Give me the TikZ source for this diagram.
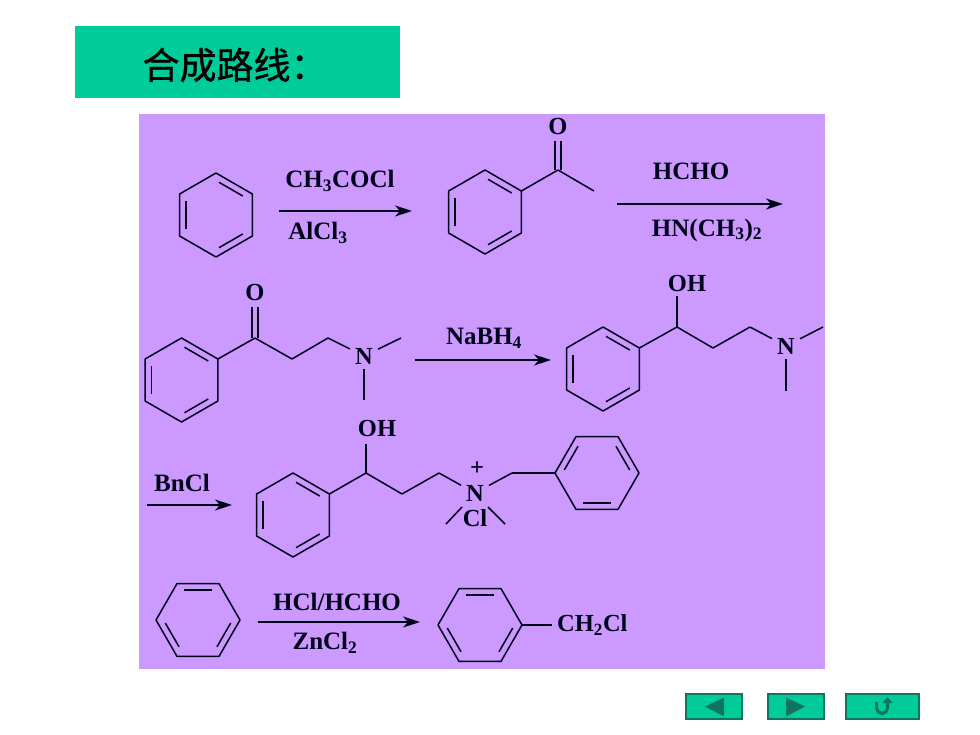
\documentclass[tikz,border=0pt]{standalone}
\usepackage{fontspec}
\setmainfont{Liberation Serif}
\newfontfamily\cjkfont[FakeBold=1]{Noto Sans CJK SC}
\usetikzlibrary{calc, arrows.meta}
\definecolor{panelpurple}{HTML}{CC99FF}
\definecolor{titlegreen}{HTML}{00CC99}
\definecolor{icondark}{HTML}{0F7560}

% ring: name, centre, angle of first corner
\newcommand{\benzring}[3]{%
  \foreach \i in {1,...,6} {\coordinate (#1\i) at ($(#2)+({-(#3+60*(\i-1))}:42)$);}
  \draw[bond] (#11) -- (#12) -- (#13) -- (#14) -- (#15) -- (#16) -- cycle;
  \draw[innerbond] ($(#2)!.82!(#11)$) -- ($(#2)!.82!(#12)$);
  \draw[innerbond] ($(#2)!.82!(#13)$) -- ($(#2)!.82!(#14)$);
  \draw[innerbond] ($(#2)!.82!(#15)$) -- ($(#2)!.82!(#16)$);
}

\begin{document}
\begin{tikzpicture}[x=1pt, y=-1pt,
  bond/.style={line width=1.5pt, black!90!blue, line join=round},
  innerbond/.style={bond, shorten >=3.5pt, shorten <=3.5pt},
  atom/.style={font=\fontsize{24.5}{28}\selectfont\bfseries, inner sep=1pt, text=black!90!blue},
  nitrogen/.style={atom, inner sep=5pt},
  reagent/.style={font=\fontsize{25}{28}\selectfont\bfseries, inner sep=0pt, text=black!90!blue},
  rarrow/.style={line width=1.5pt, black!90!blue, -{Stealth[length=17pt, width=11pt, inset=5pt]}},
  navbtn/.style={draw=icondark, line width=1.4pt, fill=titlegreen, inner sep=0pt, minimum height=25pt}]

\useasboundingbox (0,0) rectangle (980,735);
\fill[white] (0,0) rectangle (980,735);

\node[fill=titlegreen, minimum width=325pt, minimum height=72pt, inner sep=0pt] (title) at (237.5,62) {};
\node[font=\fontsize{37}{40}\cjkfont, inner sep=0pt] (titletext) at (235,65) {合成路线：};
\node[fill=panelpurple, minimum width=686pt, minimum height=555pt, inner sep=0pt] (panel) at (482,391.5) {};

% row 1
\benzring{ra}{216,215}{30}
\coordinate (a1) at (279,211);
\coordinate (a2) at (412,211);
\draw[rarrow] (a1) -- (a2);
\node[reagent] (ch3cocl) at (340,181) {CH\textsubscript{3}COCl};
\node[reagent] (alcl3) at (318,233) {AlCl\textsubscript{3}};

\benzring{rb}{485,212}{30}
\coordinate (bc) at (558,170);
\coordinate (bm) at (594,191);
\node[atom] (bo) at (558,127) {O};
\path[bond] (rb1) edge (bc) (bc) edge (bm);
\draw[bond] ([xshift=-3pt]bc) -- ([xshift=-3pt,yshift=-5pt]bo.south);
\draw[bond] ([xshift=3pt]bc) -- ([xshift=3pt,yshift=-5pt]bo.south);
\coordinate (a3) at (617,204);
\coordinate (a4) at (783,204);
\draw[rarrow] (a3) -- (a4);
\node[reagent] (hcho) at (691,171) {HCHO};
\node[reagent] (hnme) at (707,230) {HN(CH\textsubscript{3})\textsubscript{2}};

% row 2
\benzring{rc}{181.5,380}{30}
\coordinate (c1) at (255,338);
\coordinate (c2) at (292,359);
\coordinate (c3) at (328,338);
\coordinate (c4) at (401,338);
\coordinate (c5) at (364,400);
\node[atom] (co) at (255,293) {O};
\node[nitrogen] (cn) at (364,356) {N};
\path[bond] (rc1) edge (c1) (c1) edge (c2) (c2) edge (c3) (c3) edge (cn) (cn) edge (c4) (cn.south) edge (c5);
\draw[bond] ([xshift=-3pt]c1) -- ([xshift=-3pt,yshift=-5pt]co.south);
\draw[bond] ([xshift=3pt]c1) -- ([xshift=3pt,yshift=-5pt]co.south);
\coordinate (a5) at (415,360);
\coordinate (a6) at (551,360);
\draw[rarrow] (a5) -- (a6);
\node[reagent] (nabh4) at (484,338) {NaBH\textsubscript{4}};

\benzring{rd}{603,369}{30}
\coordinate (d1) at (677,327);
\coordinate (d2) at (713,348);
\coordinate (d3) at (750,327);
\coordinate (d4) at (823,327);
\coordinate (d5) at (786,391);
\coordinate (d6) at (677,296);
\node[atom] (doh) at (687,284) {OH};
\node[nitrogen] (dn) at (786,346) {N};
\path[bond] (rd1) edge (d1) (d1) edge (d2) (d2) edge (d3) (d3) edge (dn) (dn) edge (d4) (dn.south) edge (d5) (d1) edge (d6);

% row 3
\coordinate (a7) at (147,505);
\coordinate (a8) at (232,505);
\draw[rarrow] (a7) -- (a8);
\node[reagent] (bncl) at (182,483) {BnCl};
\benzring{re}{293,515}{30}
\coordinate (e1) at (366,473);
\coordinate (e2) at (402,494);
\coordinate (e3) at (439,473);
\coordinate (e4) at (512,473);
\coordinate (e9) at (366,444);
\node[atom] (eoh) at (377,429) {OH};
\node[nitrogen] (en) at (475,493) {N};
\node[atom] (eplus) at (477,469) {+};
\node[atom] (ecl) at (475,518) {Cl};
\coordinate (e5) at (462,507);
\coordinate (e6) at (446,524);
\coordinate (e7) at (488,507);
\coordinate (e8) at (505,524);
\benzring{rf}{597,473}{0}
\path[bond] (re1) edge (e1) (e1) edge (e2) (e2) edge (e3) (e3) edge (en) (en) edge (e4) (e4) edge (rf4)
  (e5) edge (e6) (e7) edge (e8) (e1) edge (e9);

% row 4
\benzring{rg}{198,620}{60}
\coordinate (a9) at (258,622);
\coordinate (a10) at (420,622);
\draw[rarrow] (a9) -- (a10);
\node[reagent] (hclhcho) at (337,602) {HCl/HCHO};
\node[reagent] (zncl2) at (325,643) {ZnCl\textsubscript{2}};
\benzring{rh}{480,625}{60}
\node[atom, inner xsep=5pt, anchor=west] (ch2cl) at (552,625) {CH\textsubscript{2}Cl};
\path[bond] (rh6) edge (ch2cl);

% buttons
\node[navbtn, minimum width=56pt] (btnback) at (714,706.5) {};
\node[navbtn, minimum width=56pt] (btnnext) at (796,706.5) {};
\node[navbtn, minimum width=73pt] (btnret) at (882.5,706.5) {};
\fill[icondark] (705,706.5) -- (724,697.5) -- (724,716.5) -- cycle;
\fill[icondark] (786,697.5) -- (786,716.5) -- (805,706.5) -- cycle;
\draw[icondark, line width=3pt] (876.5,702) -- (876.5,708) arc[start angle=180, end angle=0, radius=5.5] -- (887.5,702);
\fill[icondark] (882.5,703) -- (887.5,697) -- (892.5,703) -- cycle;

\end{tikzpicture}
\end{document}
